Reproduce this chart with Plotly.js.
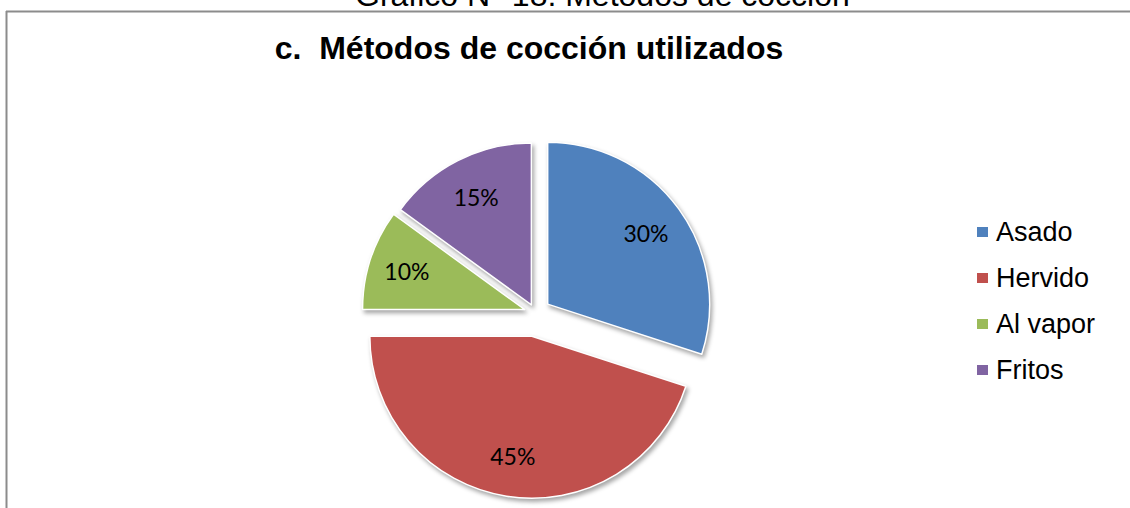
<!DOCTYPE html>
<html>
<head>
<meta charset="utf-8">
<script src="https://cdn.plot.ly/plotly-3.0.1.min.js"></script>
<style>
  html, body { margin: 0; padding: 0; background: #ffffff; }
  #chart { width: 1130px; height: 508px; }
  .pielayer .trace:first-child path.surface { filter: drop-shadow(2px 3px 2px rgba(0,0,0,0.35)); }
</style>
</head>
<body>
<div id="chart"></div>
<script>
// ---- data ----
const categories = ["Asado", "Hervido", "Al vapor", "Fritos"];
const values = [30, 45, 10, 15];
const colors = ["#4F81BD", "#C0504D", "#9BBB59", "#8064A2"];
const pulls = [0.093, 0.145, 0.071, 0.056];
const chartTitle = "c.\u00a0 Métodos de cocción utilizados";
const pageHeading = "Gráfico N° 18: Métodos de cocción";

// ---- layout helpers ----
const W = 1130, H = 508;
const px = x => x / W;
const py = y => 1 - y / H;

// pie box: centre (535.5, 313), side 371 px
const cx = 535.5, cy = 313, half = 185.5;
const domain = { x: [px(cx - half), px(cx + half)], y: [py(cy + half), py(cy - half)] };

// slices
const slices = {
  type: "pie",
  labels: categories,
  values: values,
  sort: false,
  direction: "clockwise",
  rotation: 0,
  pull: pulls,
  marker: { colors: colors, line: { color: "#ffffff", width: 1.5 } },
  textinfo: "none",
  hoverinfo: "label+percent",
  showlegend: false,
  domain: domain
};

// same pie as a transparent ring, used only to place the percentage labels
const labelRing = {
  type: "pie",
  labels: categories,
  values: values,
  sort: false,
  direction: "clockwise",
  rotation: 0,
  pull: pulls,
  hole: 0.5,
  marker: { colors: categories.map(() => "rgba(0,0,0,0)"), line: { width: 0 } },
  textinfo: "percent",
  textposition: "inside",
  insidetextorientation: "horizontal",
  textfont: { family: "Lato, 'Open Sans', sans-serif", size: 23, color: "#000000" },
  hoverinfo: "skip",
  showlegend: false,
  domain: domain
};

const shapes = [
  // frame (top and left edges visible)
  { type: "line", xref: "paper", yref: "paper", x0: px(6), x1: px(1135), y0: py(11.5), y1: py(11.5),
    line: { color: "#8c8c8c", width: 2 } },
  { type: "line", xref: "paper", yref: "paper", x0: px(6.5), x1: px(6.5), y0: py(11), y1: py(515),
    line: { color: "#8c8c8c", width: 2 } }
];
const annotations = [
  { text: pageHeading, xref: "paper", yref: "paper", x: px(602), y: py(15), xanchor: "center", yanchor: "bottom",
    showarrow: false, font: { family: "'Liberation Sans', Arial, sans-serif", size: 32, color: "#000000" } }
];

// custom legend built from the arrays
categories.forEach((name, i) => {
  const yc = 232 + i * 46;
  shapes.push({ type: "rect", xref: "paper", yref: "paper",
    x0: px(977), x1: px(988), y0: py(yc + 5), y1: py(yc - 5),
    fillcolor: colors[i], line: { width: 0 } });
  annotations.push({ text: name, xref: "paper", yref: "paper", x: px(994), y: py(yc),
    xanchor: "left", yanchor: "middle", showarrow: false,
    font: { family: "'Liberation Sans', Arial, sans-serif", size: 27, color: "#000000" } });
});

const layout = {
  width: W, height: H,
  margin: { l: 0, r: 0, t: 0, b: 0 },
  paper_bgcolor: "#ffffff",
  plot_bgcolor: "#ffffff",
  showlegend: false,
  title: {
    text: chartTitle,
    xref: "container", yref: "container",
    x: px(529), y: py(48), xanchor: "center", yanchor: "middle",
    font: { family: "'Liberation Sans', Arial, sans-serif", size: 32, color: "#000000", weight: "bold" }
  },
  shapes: shapes,
  annotations: annotations
};

Plotly.newPlot("chart", [slices, labelRing], layout, { displayModeBar: false, staticPlot: true });
</script>
</body>
</html>
